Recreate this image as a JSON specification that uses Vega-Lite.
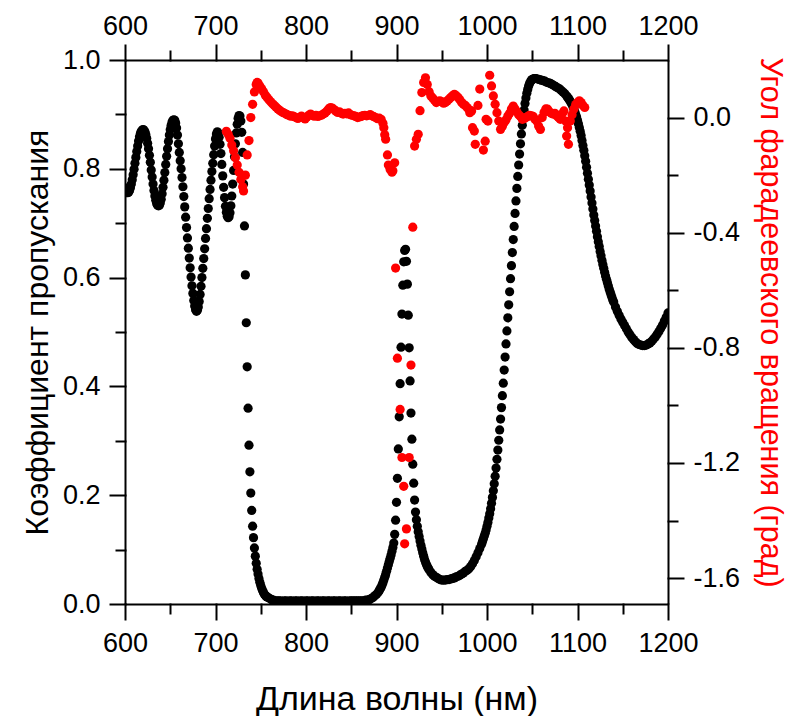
{
  "$schema": "https://vega.github.io/schema/vega-lite/v6.json",
  "width": 543,
  "height": 544,
  "autosize": {"type": "none"},
  "padding": {"left": 125, "top": 60, "right": 119, "bottom": 112},
  "background": "white",
  "config": {
    "view": {"stroke": null},
    "font": "Liberation Sans",
    "axis": {
      "domainColor": "black", "domainWidth": 2, "tickColor": "black", "tickWidth": 2, "tickOpacity": 1, "tickCap": "square", "zindex": 1,
      "labelColor": "black", "labelFont": "Liberation Sans", "labelFontSize": 27,
      "titleFont": "Liberation Sans", "titleFontSize": 32, "titleFontWeight": "normal", "titleColor": "black",
      "grid": false, "labelFlush": false, "labelOverlap": false, "labelBound": false
    }
  },
  "layer": [
    {
      "data": {"values": [
      {"w":600,"t":0.765},{"w":601,"t":0.76},{"w":602,"t":0.757},{"w":603,"t":0.756},{"w":604,"t":0.757},{"w":605,"t":0.76},{"w":606,"t":0.765},{"w":607,"t":0.772},{"w":608,"t":0.78},{"w":609,"t":0.789},
      {"w":610,"t":0.799},{"w":611,"t":0.81},{"w":612,"t":0.821},{"w":613,"t":0.832},{"w":614,"t":0.842},{"w":615,"t":0.851},{"w":616,"t":0.859},{"w":617,"t":0.865},{"w":618,"t":0.869},{"w":619,"t":0.871},
      {"w":620,"t":0.872},{"w":621,"t":0.871},{"w":622,"t":0.868},{"w":623,"t":0.863},{"w":624,"t":0.856},{"w":625,"t":0.847},{"w":626,"t":0.837},{"w":627,"t":0.825},{"w":628,"t":0.812},{"w":629,"t":0.798},
      {"w":630,"t":0.785},{"w":631,"t":0.772},{"w":632,"t":0.76},{"w":633,"t":0.75},{"w":634,"t":0.742},{"w":635,"t":0.736},{"w":636,"t":0.733},{"w":637,"t":0.732},{"w":638,"t":0.733},{"w":639,"t":0.737},
      {"w":640,"t":0.744},{"w":641,"t":0.754},{"w":642,"t":0.766},{"w":643,"t":0.779},{"w":644,"t":0.793},{"w":645,"t":0.808},{"w":646,"t":0.823},{"w":647,"t":0.837},{"w":648,"t":0.85},{"w":649,"t":0.862},
      {"w":650,"t":0.872},{"w":651,"t":0.88},{"w":652,"t":0.886},{"w":653,"t":0.889},{"w":654,"t":0.89},{"w":655,"t":0.889},{"w":656,"t":0.884},{"w":657,"t":0.875},{"w":658,"t":0.862},{"w":659,"t":0.846},
      {"w":660,"t":0.83},{"w":661,"t":0.815},{"w":662,"t":0.8},{"w":663,"t":0.784},{"w":664,"t":0.767},{"w":665,"t":0.749},{"w":666,"t":0.73},{"w":667,"t":0.711},{"w":668,"t":0.692},{"w":669,"t":0.673},
      {"w":670,"t":0.654},{"w":671,"t":0.636},{"w":672,"t":0.618},{"w":673,"t":0.601},{"w":674,"t":0.585},{"w":675,"t":0.571},{"w":676,"t":0.558},{"w":677,"t":0.548},{"w":678,"t":0.541},{"w":679,"t":0.538},
      {"w":680,"t":0.54},{"w":681,"t":0.546},{"w":682,"t":0.556},{"w":683,"t":0.569},{"w":684,"t":0.584},{"w":685,"t":0.6},{"w":686,"t":0.617},{"w":687,"t":0.635},{"w":688,"t":0.653},{"w":689,"t":0.672},
      {"w":690,"t":0.69},{"w":691,"t":0.709},{"w":692,"t":0.727},{"w":693,"t":0.745},{"w":694,"t":0.762},{"w":695,"t":0.779},{"w":696,"t":0.795},{"w":697,"t":0.81},{"w":698,"t":0.826},{"w":699,"t":0.842},
      {"w":700,"t":0.855},{"w":701,"t":0.864},{"w":702,"t":0.868},{"w":703,"t":0.866},{"w":704,"t":0.858},{"w":705,"t":0.845},{"w":706,"t":0.828},{"w":707,"t":0.808},{"w":708,"t":0.787},{"w":709,"t":0.766},
      {"w":710,"t":0.747},{"w":711,"t":0.731},{"w":712,"t":0.72},{"w":713,"t":0.713},{"w":714,"t":0.71},{"w":715,"t":0.712},{"w":716,"t":0.719},{"w":717,"t":0.732},{"w":718,"t":0.75},{"w":719,"t":0.772},
      {"w":720,"t":0.797},{"w":721,"t":0.822},{"w":722,"t":0.846},{"w":723,"t":0.866},{"w":724,"t":0.882},{"w":725,"t":0.893},{"w":726,"t":0.898},{"w":727,"t":0.897},{"w":728,"t":0.888},{"w":729,"t":0.867},
      {"w":730,"t":0.83},{"w":731,"t":0.772},{"w":732,"t":0.695},{"w":733,"t":0.605},{"w":734,"t":0.517},{"w":735,"t":0.436},{"w":736,"t":0.36},{"w":737,"t":0.292},{"w":738,"t":0.243},{"w":739,"t":0.204},
      {"w":740,"t":0.172},{"w":741,"t":0.143},{"w":742,"t":0.122},{"w":743,"t":0.103},{"w":744,"t":0.088},{"w":745,"t":0.075},{"w":746,"t":0.064},{"w":747,"t":0.055},{"w":748,"t":0.047},{"w":749,"t":0.04},
      {"w":750,"t":0.034},{"w":751,"t":0.029},{"w":752,"t":0.025},{"w":753,"t":0.021},{"w":754,"t":0.018},{"w":755,"t":0.016},{"w":756,"t":0.014},{"w":757,"t":0.013},{"w":758,"t":0.012},{"w":760,"t":0.01},
      {"w":762,"t":0.008},{"w":764,"t":0.007},{"w":766,"t":0.006},{"w":768,"t":0.006},{"w":770,"t":0.006},{"w":772,"t":0.006},{"w":774,"t":0.005},{"w":776,"t":0.006},{"w":778,"t":0.006},{"w":780,"t":0.005},
      {"w":782,"t":0.006},{"w":784,"t":0.006},{"w":786,"t":0.005},{"w":788,"t":0.006},{"w":790,"t":0.006},{"w":792,"t":0.005},{"w":794,"t":0.006},{"w":796,"t":0.006},{"w":798,"t":0.005},{"w":800,"t":0.006},
      {"w":802,"t":0.006},{"w":804,"t":0.005},{"w":806,"t":0.006},{"w":808,"t":0.006},{"w":810,"t":0.005},{"w":812,"t":0.006},{"w":814,"t":0.006},{"w":816,"t":0.005},{"w":818,"t":0.006},{"w":820,"t":0.006},
      {"w":822,"t":0.005},{"w":824,"t":0.006},{"w":826,"t":0.006},{"w":828,"t":0.005},{"w":830,"t":0.006},{"w":832,"t":0.006},{"w":834,"t":0.005},{"w":836,"t":0.006},{"w":838,"t":0.006},{"w":840,"t":0.005},
      {"w":842,"t":0.006},{"w":844,"t":0.006},{"w":846,"t":0.005},{"w":848,"t":0.006},{"w":850,"t":0.006},{"w":852,"t":0.006},{"w":854,"t":0.006},{"w":856,"t":0.006},{"w":858,"t":0.006},{"w":860,"t":0.006},
      {"w":862,"t":0.006},{"w":864,"t":0.006},{"w":866,"t":0.007},{"w":868,"t":0.007},{"w":870,"t":0.008},{"w":872,"t":0.01},{"w":874,"t":0.012},{"w":876,"t":0.015},{"w":878,"t":0.018},{"w":880,"t":0.022},
      {"w":881,"t":0.025},{"w":882,"t":0.028},{"w":883,"t":0.031},{"w":884,"t":0.035},{"w":885,"t":0.039},{"w":886,"t":0.044},{"w":887,"t":0.049},{"w":888,"t":0.054},{"w":889,"t":0.06},{"w":890,"t":0.066},
      {"w":891,"t":0.072},{"w":892,"t":0.078},{"w":893,"t":0.084},{"w":894,"t":0.09},{"w":895,"t":0.097},{"w":896,"t":0.104},{"w":897,"t":0.112},{"w":898,"t":0.128},{"w":899,"t":0.154},{"w":900,"t":0.187},
      {"w":901,"t":0.231},{"w":902,"t":0.285},{"w":903,"t":0.344},{"w":904,"t":0.405},{"w":905,"t":0.472},{"w":906,"t":0.533},{"w":907,"t":0.586},{"w":908,"t":0.629},{"w":909,"t":0.65},{"w":910,"t":0.652},
      {"w":911,"t":0.63},{"w":912,"t":0.588},{"w":913,"t":0.531},{"w":914,"t":0.471},{"w":915,"t":0.41},{"w":916,"t":0.351},{"w":917,"t":0.303},{"w":918,"t":0.257},{"w":919,"t":0.222},{"w":920,"t":0.191},
      {"w":921,"t":0.169},{"w":922,"t":0.155},{"w":923,"t":0.143},{"w":924,"t":0.133},{"w":925,"t":0.124},{"w":926,"t":0.116},{"w":927,"t":0.108},{"w":928,"t":0.101},{"w":929,"t":0.094},{"w":930,"t":0.088},
      {"w":931,"t":0.082},{"w":932,"t":0.077},{"w":933,"t":0.073},{"w":934,"t":0.069},{"w":935,"t":0.066},{"w":936,"t":0.063},{"w":938,"t":0.058},{"w":940,"t":0.054},{"w":942,"t":0.051},{"w":944,"t":0.049},
      {"w":946,"t":0.047},{"w":948,"t":0.045},{"w":950,"t":0.044},{"w":952,"t":0.044},{"w":954,"t":0.044},{"w":956,"t":0.045},{"w":958,"t":0.045},{"w":960,"t":0.046},{"w":962,"t":0.047},{"w":964,"t":0.048},
      {"w":966,"t":0.05},{"w":968,"t":0.051},{"w":970,"t":0.053},{"w":972,"t":0.055},{"w":974,"t":0.057},{"w":976,"t":0.06},{"w":978,"t":0.062},{"w":980,"t":0.065},{"w":982,"t":0.069},{"w":984,"t":0.074},
      {"w":986,"t":0.08},{"w":988,"t":0.087},{"w":990,"t":0.094},{"w":992,"t":0.102},{"w":994,"t":0.11},{"w":995,"t":0.115},{"w":996,"t":0.12},{"w":997,"t":0.125},{"w":998,"t":0.13},{"w":999,"t":0.136},
      {"w":1000,"t":0.143},{"w":1001,"t":0.15},{"w":1002,"t":0.158},{"w":1003,"t":0.166},{"w":1004,"t":0.175},{"w":1005,"t":0.185},{"w":1006,"t":0.196},{"w":1007,"t":0.208},{"w":1008,"t":0.221},{"w":1009,"t":0.235},
      {"w":1010,"t":0.25},{"w":1011,"t":0.266},{"w":1012,"t":0.283},{"w":1013,"t":0.301},{"w":1014,"t":0.32},{"w":1015,"t":0.34},{"w":1016,"t":0.361},{"w":1017,"t":0.383},{"w":1018,"t":0.406},{"w":1019,"t":0.43},
      {"w":1020,"t":0.454},{"w":1021,"t":0.478},{"w":1022,"t":0.502},{"w":1023,"t":0.526},{"w":1024,"t":0.55},{"w":1025,"t":0.574},{"w":1026,"t":0.598},{"w":1027,"t":0.622},{"w":1028,"t":0.646},{"w":1029,"t":0.67},
      {"w":1030,"t":0.694},{"w":1031,"t":0.718},{"w":1032,"t":0.741},{"w":1033,"t":0.764},{"w":1034,"t":0.786},{"w":1035,"t":0.807},{"w":1036,"t":0.827},{"w":1037,"t":0.846},{"w":1038,"t":0.864},{"w":1039,"t":0.88},
      {"w":1040,"t":0.895},{"w":1041,"t":0.908},{"w":1042,"t":0.92},{"w":1043,"t":0.93},{"w":1044,"t":0.939},{"w":1045,"t":0.946},{"w":1046,"t":0.952},{"w":1047,"t":0.957},{"w":1048,"t":0.96},{"w":1049,"t":0.963},
      {"w":1050,"t":0.964},{"w":1051,"t":0.965},{"w":1052,"t":0.966},{"w":1053,"t":0.966},{"w":1054,"t":0.966},{"w":1056,"t":0.965},{"w":1058,"t":0.964},{"w":1060,"t":0.963},{"w":1062,"t":0.962},{"w":1064,"t":0.961},
      {"w":1066,"t":0.959},{"w":1068,"t":0.958},{"w":1070,"t":0.957},{"w":1072,"t":0.955},{"w":1074,"t":0.953},{"w":1076,"t":0.951},{"w":1078,"t":0.949},{"w":1080,"t":0.947},{"w":1082,"t":0.944},{"w":1084,"t":0.941},
      {"w":1086,"t":0.938},{"w":1088,"t":0.934},{"w":1089,"t":0.932},{"w":1090,"t":0.929},{"w":1091,"t":0.927},{"w":1092,"t":0.924},{"w":1093,"t":0.921},{"w":1094,"t":0.918},{"w":1095,"t":0.914},{"w":1096,"t":0.91},
      {"w":1097,"t":0.905},{"w":1098,"t":0.9},{"w":1099,"t":0.895},{"w":1100,"t":0.889},{"w":1101,"t":0.883},{"w":1102,"t":0.876},{"w":1103,"t":0.869},{"w":1104,"t":0.861},{"w":1105,"t":0.852},{"w":1106,"t":0.843},
      {"w":1107,"t":0.834},{"w":1108,"t":0.824},{"w":1109,"t":0.814},{"w":1110,"t":0.803},{"w":1111,"t":0.792},{"w":1112,"t":0.781},{"w":1113,"t":0.77},{"w":1114,"t":0.759},{"w":1115,"t":0.748},{"w":1116,"t":0.737},
      {"w":1117,"t":0.726},{"w":1118,"t":0.715},{"w":1119,"t":0.705},{"w":1120,"t":0.695},{"w":1121,"t":0.685},{"w":1122,"t":0.675},{"w":1123,"t":0.666},{"w":1124,"t":0.657},{"w":1125,"t":0.648},{"w":1126,"t":0.64},
      {"w":1127,"t":0.632},{"w":1128,"t":0.624},{"w":1129,"t":0.617},{"w":1130,"t":0.61},{"w":1131,"t":0.603},{"w":1132,"t":0.597},{"w":1133,"t":0.591},{"w":1134,"t":0.585},{"w":1135,"t":0.579},{"w":1136,"t":0.574},
      {"w":1137,"t":0.569},{"w":1138,"t":0.564},{"w":1139,"t":0.559},{"w":1140,"t":0.555},{"w":1142,"t":0.546},{"w":1144,"t":0.538},{"w":1146,"t":0.531},{"w":1148,"t":0.524},{"w":1150,"t":0.518},{"w":1152,"t":0.512},
      {"w":1154,"t":0.506},{"w":1156,"t":0.5},{"w":1158,"t":0.495},{"w":1160,"t":0.49},{"w":1162,"t":0.486},{"w":1164,"t":0.482},{"w":1166,"t":0.479},{"w":1168,"t":0.477},{"w":1170,"t":0.476},{"w":1172,"t":0.475},
      {"w":1174,"t":0.475},{"w":1176,"t":0.476},{"w":1178,"t":0.478},{"w":1180,"t":0.48},{"w":1182,"t":0.483},{"w":1184,"t":0.487},{"w":1186,"t":0.491},{"w":1188,"t":0.496},{"w":1190,"t":0.501},{"w":1192,"t":0.507},
      {"w":1194,"t":0.513},{"w":1196,"t":0.52},{"w":1198,"t":0.527},{"w":1200,"t":0.535}
      ]},
      "mark": {"type": "point", "filled": true, "color": "black", "size": 85, "opacity": 1, "clip": true},
      "encoding": {
        "x": {"field": "w", "type": "quantitative", "scale": {"domain": [600, 1200], "nice": false, "zero": false},
          "axis": {"orient": "bottom", "values": [600, 650, 700, 750, 800, 850, 900, 950, 1000, 1050, 1100, 1150, 1200],
            "labelExpr": "datum.value % 100 === 0 ? format(datum.value, 'd') : ''",
            "ticks": true, "tickSize": {"condition": {"test": "datum.value % 100 === 0", "value": 15}, "value": 9}, "labelPadding": 11,
            "title": "Длина волны (нм)", "titleFontSize": 34, "titleY": 105, "titleBaseline": "alphabetic"}},
        "y": {"field": "t", "type": "quantitative", "scale": {"domain": [0, 1], "nice": false, "zero": false},
          "axis": {"orient": "left", "values": [0, 0.1, 0.2, 0.3, 0.4, 0.5, 0.6, 0.7, 0.8, 0.9, 1.0],
            "labelExpr": "round(datum.value * 10) % 2 === 0 ? format(datum.value, '.1f') : ''",
            "ticks": true, "tickSize": {"condition": {"test": "round(datum.value * 10) % 2 === 0", "value": 15}, "value": 9}, "labelPadding": 10,
            "title": "Коэффициент пропускания", "titleX": -78, "titleBaseline": "alphabetic"}}
      }
    },
    {
      "data": {"values": [
      {"w":712,"f":-0.048},{"w":714,"f":-0.058},{"w":716,"f":-0.072},{"w":718,"f":-0.095},{"w":720,"f":-0.115},{"w":722,"f":-0.14},{"w":724,"f":-0.165},{"w":726,"f":-0.19},{"w":728,"f":-0.215},{"w":730,"f":-0.24},
      {"w":731,"f":-0.255},{"w":733,"f":-0.2},{"w":735,"f":-0.13},{"w":737,"f":-0.08},{"w":739,"f":0.0},{"w":741,"f":0.046},{"w":743,"f":0.089},{"w":745,"f":0.115},{"w":746,"f":0.122},{"w":747,"f":0.12},
      {"w":749,"f":0.11},{"w":751,"f":0.1},{"w":753,"f":0.09},{"w":755,"f":0.078},{"w":757,"f":0.07},{"w":759,"f":0.062},{"w":761,"f":0.055},{"w":763,"f":0.048},{"w":765,"f":0.042},{"w":767,"f":0.036},
      {"w":769,"f":0.03},{"w":771,"f":0.025},{"w":773,"f":0.02},{"w":775,"f":0.017},{"w":777,"f":0.014},{"w":779,"f":0.01},{"w":781,"f":0.008},{"w":783,"f":0.005},{"w":785,"f":0.006},{"w":787,"f":0.003},
      {"w":789,"f":0.0},{"w":791,"f":-0.003},{"w":793,"f":0.0},{"w":795,"f":0.005},{"w":797,"f":0.0},{"w":799,"f":-0.005},{"w":801,"f":0.002},{"w":803,"f":0.008},{"w":805,"f":0.012},{"w":807,"f":0.008},
      {"w":809,"f":0.005},{"w":811,"f":0.008},{"w":813,"f":0.004},{"w":815,"f":0.006},{"w":817,"f":0.008},{"w":819,"f":0.012},{"w":821,"f":0.016},{"w":823,"f":0.022},{"w":825,"f":0.03},{"w":827,"f":0.035},
      {"w":829,"f":0.033},{"w":831,"f":0.028},{"w":833,"f":0.022},{"w":835,"f":0.018},{"w":837,"f":0.02},{"w":839,"f":0.015},{"w":841,"f":0.012},{"w":843,"f":0.015},{"w":845,"f":0.013},{"w":847,"f":0.016},
      {"w":849,"f":0.01},{"w":851,"f":0.008},{"w":853,"f":0.006},{"w":855,"f":0.004},{"w":857,"f":0.0},{"w":859,"f":0.002},{"w":861,"f":0.004},{"w":863,"f":0.007},{"w":865,"f":0.008},{"w":867,"f":0.006},
      {"w":869,"f":0.008},{"w":871,"f":0.01},{"w":873,"f":0.006},{"w":875,"f":0.003},{"w":877,"f":0.0},{"w":879,"f":-0.004},{"w":881,"f":-0.002},{"w":883,"f":-0.006},{"w":885,"f":-0.02},{"w":886,"f":-0.035},
      {"w":887,"f":-0.06},{"w":888,"f":-0.075},{"w":890,"f":-0.13},{"w":891,"f":-0.165},{"w":893,"f":-0.18},{"w":895,"f":-0.19},{"w":896,"f":-0.185},{"w":898,"f":-0.157},{"w":899,"f":-0.523},{"w":901,"f":-0.836},
      {"w":904,"f":-1.014},{"w":906,"f":-1.181},{"w":908,"f":-1.281},{"w":909,"f":-1.481},{"w":911,"f":-1.429},{"w":914,"f":-1.181},{"w":916,"f":-0.86},{"w":918,"f":-0.381},{"w":920,"f":-0.099},{"w":922,"f":-0.075},
      {"w":924,"f":-0.058},{"w":926,"f":0.024},{"w":928,"f":0.087},{"w":930,"f":0.122},{"w":932,"f":0.138},{"w":934,"f":0.115},{"w":936,"f":0.09},{"w":938,"f":0.075},{"w":940,"f":0.068},{"w":942,"f":0.06},
      {"w":944,"f":0.052},{"w":946,"f":0.056},{"w":948,"f":0.058},{"w":950,"f":0.055},{"w":952,"f":0.05},{"w":954,"f":0.052},{"w":956,"f":0.058},{"w":958,"f":0.064},{"w":960,"f":0.07},{"w":962,"f":0.076},
      {"w":964,"f":0.081},{"w":966,"f":0.076},{"w":968,"f":0.07},{"w":970,"f":0.062},{"w":972,"f":0.052},{"w":974,"f":0.046},{"w":976,"f":0.042},{"w":978,"f":0.035},{"w":980,"f":0.028},{"w":981,"f":0.017},
      {"w":983,"f":0.023},{"w":984,"f":-0.035},{"w":986,"f":-0.047},{"w":987,"f":-0.093},{"w":990,"f":0.042},{"w":992,"f":0.099},{"w":996,"f":-0.113},{"w":998,"f":-0.082},{"w":999,"f":-0.006},{"w":1001,"f":-0.012},
      {"w":1003,"f":0.147},{"w":1005,"f":0.11},{"w":1007,"f":0.075},{"w":1009,"f":0.046},{"w":1011,"f":0.017},{"w":1013,"f":-0.012},{"w":1015,"f":-0.041},{"w":1017,"f":-0.03},{"w":1019,"f":-0.017},{"w":1021,"f":-0.008},
      {"w":1023,"f":0.005},{"w":1025,"f":0.015},{"w":1027,"f":0.03},{"w":1029,"f":0.04},{"w":1031,"f":0.03},{"w":1033,"f":0.02},{"w":1035,"f":0.01},{"w":1037,"f":0.004},{"w":1039,"f":-0.006},{"w":1041,"f":-0.004},
      {"w":1043,"f":0.0},{"w":1045,"f":0.004},{"w":1047,"f":0.008},{"w":1049,"f":0.006},{"w":1051,"f":0.004},{"w":1053,"f":-0.006},{"w":1055,"f":-0.012},{"w":1057,"f":-0.029},{"w":1059,"f":-0.041},{"w":1061,"f":0.0},
      {"w":1063,"f":0.018},{"w":1065,"f":0.03},{"w":1067,"f":0.029},{"w":1069,"f":0.02},{"w":1071,"f":0.015},{"w":1073,"f":0.012},{"w":1075,"f":0.015},{"w":1077,"f":0.006},{"w":1079,"f":0.0},{"w":1081,"f":-0.006},
      {"w":1083,"f":0.012},{"w":1085,"f":0.023},{"w":1087,"f":-0.012},{"w":1088,"f":-0.064},{"w":1089,"f":-0.035},{"w":1090,"f":-0.093},{"w":1092,"f":-0.012},{"w":1094,"f":0.01},{"w":1096,"f":0.03},{"w":1098,"f":0.045},
      {"w":1100,"f":0.052},{"w":1102,"f":0.058},{"w":1104,"f":0.052},{"w":1106,"f":0.042},{"w":1108,"f":0.035}
      ]},
      "mark": {"type": "point", "filled": true, "color": "#ff0000", "size": 85, "opacity": 1, "clip": true},
      "encoding": {
        "x": {"field": "w", "type": "quantitative", "scale": {"domain": [600, 1200], "nice": false, "zero": false},
          "axis": {"orient": "top", "values": [600, 650, 700, 750, 800, 850, 900, 950, 1000, 1050, 1100, 1150, 1200],
            "labelExpr": "datum.value % 100 === 0 ? format(datum.value, 'd') : ''",
            "ticks": true, "tickSize": {"condition": {"test": "datum.value % 100 === 0", "value": 15}, "value": 9}, "labelPadding": 5, "title": null}},
        "y": {"field": "f", "type": "quantitative", "scale": {"domain": [-1.69, 0.2], "nice": false, "zero": false},
          "axis": {"orient": "right", "values": [0, -0.2, -0.4, -0.6, -0.8, -1.0, -1.2, -1.4, -1.6],
            "labelExpr": "round(datum.value * 10) % 4 !== 0 ? '' : (datum.value < 0 ? '-' + format(-datum.value, '.1f') : format(datum.value, '.1f'))",
            "ticks": true, "tickSize": {"condition": {"test": "round(datum.value * 10) % 4 === 0", "value": 15}, "value": 9}, "labelPadding": 10,
            "title": "Угол фарадеевского вращения (град)", "titleFontSize": 30.5, "titleColor": "#ff0000", "titleX": 92, "titleY": 262, "titleBaseline": "alphabetic"}}
      }
    }
  ],
  "resolve": {"scale": {"y": "independent"}, "axis": {"x": "independent", "y": "independent"}}
}
